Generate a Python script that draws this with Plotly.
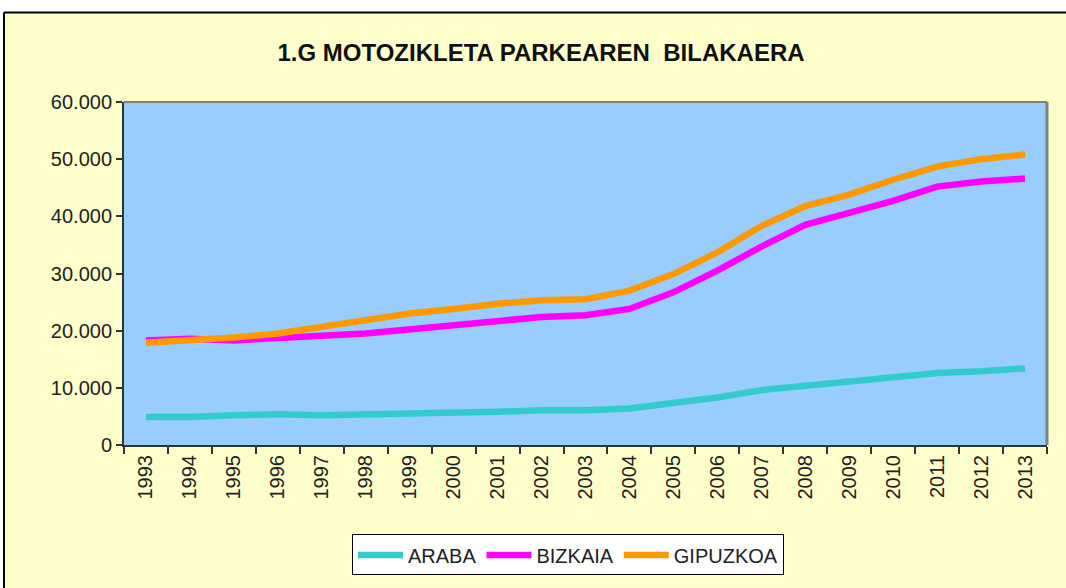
import plotly.graph_objects as go

years = [str(y) for y in range(1993, 2014)]
araba = [4900, 4900, 5200, 5400, 5200, 5300, 5600, 5600, 5800, 6100, 6100,
         6400, 7300, 8300, 9600, 10400, 11200, 11900, 12600, 12900, 13400]
bizkaia = [18300, 18600, 18300, 18600, 19100, 19500, 20200, 21000, 21700, 22400, 22700,
           23800, 26700, 30500, 34700, 38500, 40600, 42700, 45200, 46100, 46600]
gipuzkoa = [17900, 18300, 18800, 19500, 20600, 21800, 23000, 23800, 24700, 25300, 25500,
            27000, 29900, 33700, 38300, 41800, 43800, 46400, 48700, 50000, 50800]

W, H = 1066, 588
L, R, T, B = 124, 1047, 102, 447
pw, ph = R - L, B - T

def px(x):
    return (x - L) / pw

def py(y):
    return (B - y) / ph

fnt = "Liberation Sans, Arial, sans-serif"
fig = go.Figure()
for name, vals, col in [("ARABA", araba, "#33CCCC"),
                        ("BIZKAIA", bizkaia, "#FF00FF"),
                        ("GIPUZKOA", gipuzkoa, "#FF9900")]:
    fig.add_trace(go.Scatter(x=years, y=vals, name=name, mode="lines",
                             line=dict(color=col, width=6.5)))

shapes = [
    dict(type="rect", xref="paper", yref="paper", x0=px(-5), x1=px(W + 5), y0=py(12), y1=py(-5),
         fillcolor="white", line=dict(width=0), layer="below"),
    dict(type="rect", xref="paper", yref="paper", x0=px(-5), x1=px(4), y0=py(H + 5), y1=py(-5),
         fillcolor="white", line=dict(width=0), layer="below"),
    dict(type="line", xref="paper", yref="paper", x0=px(4), x1=px(W + 5), y0=py(12), y1=py(12),
         line=dict(color="black", width=2)),
    dict(type="line", xref="paper", yref="paper", x0=px(4), x1=px(4), y0=py(12), y1=py(H + 5),
         line=dict(color="black", width=2)),
    dict(type="line", xref="paper", yref="paper", x0=0, x1=1, y0=1, y1=1,
         line=dict(color="#808080", width=2)),
    dict(type="line", xref="paper", yref="paper", x0=1, x1=1, y0=0, y1=1,
         line=dict(color="#808080", width=3)),
]

fig.update_layout(
    width=W, height=H,
    margin=dict(l=L, r=W - R, t=T, b=H - B),
    paper_bgcolor="#FFFFCC", plot_bgcolor="#99CCFF",
    separators=",.",
    font=dict(family=fnt, size=20, color="#222222"),
    title=dict(text="<b>1.G MOTOZIKLETA PARKEAREN&nbsp; BILAKAERA</b>",
               xref="container", x=541 / W, xanchor="center", y=1 - 53 / H, yanchor="middle",
               font=dict(family=fnt, size=24, color="#111111")),
    xaxis=dict(type="category", tickson="boundaries", ticks="outside", ticklen=7,
               range=[-0.5, len(years) - 0.5],
               tickcolor="#333333", tickwidth=1.5, tickangle=-90, showgrid=False,
               showline=True, linecolor="#333333", linewidth=2,
               tickfont=dict(size=20, color="#222222")),
    yaxis=dict(range=[0, 60000], dtick=10000, tickformat=",", ticks="outside", ticklen=6,
               tickcolor="#333333", tickwidth=1.5, showgrid=False, zeroline=False,
               showline=True, linecolor="#333333", linewidth=2,
               tickfont=dict(size=20, color="#222222")),
    legend=dict(orientation="h", x=px(568), xanchor="center", y=py(537), yanchor="top",
                bgcolor="white", bordercolor="black", borderwidth=1,
                font=dict(size=20, color="#222222"), itemwidth=45),
    shapes=shapes,
    showlegend=True,
)

fig.write_html("out.html", config={"displayModeBar": False},
               post_script="document.body.style.margin='0';document.body.style.padding='0';")
